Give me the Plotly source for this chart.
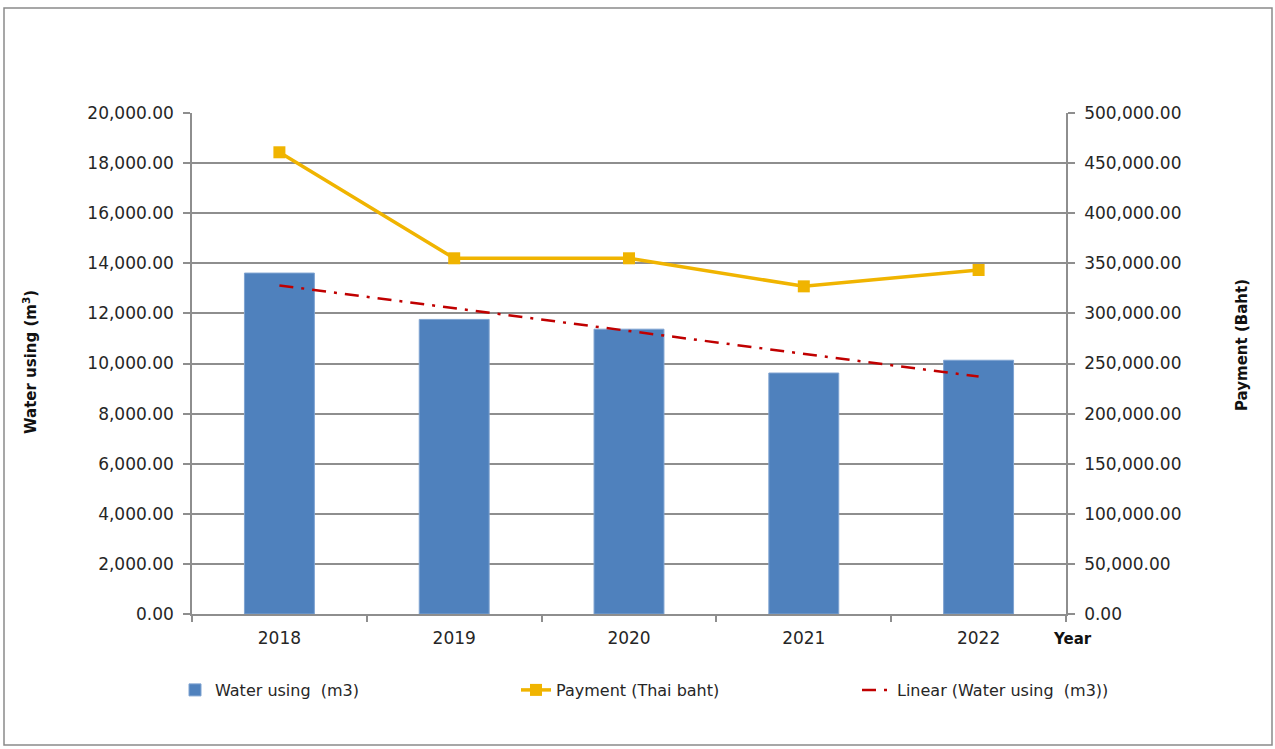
import numpy as np
import plotly.graph_objects as go

years = ["2018", "2019", "2020", "2021", "2022"]
water_m3 = [13610, 11760, 11370, 9620, 10130]
payment_baht = [460800, 355000, 355000, 327000, 343300]
left_ticks = [0, 2000, 4000, 6000, 8000, 10000, 12000, 14000, 16000, 18000, 20000]
right_ticks = [0, 50000, 100000, 150000, 200000, 250000, 300000, 350000, 400000, 450000, 500000]

# linear trend of water use (least squares)
xi = np.arange(1, len(years) + 1)
slope, intercept = np.polyfit(xi, water_m3, 1)
trend = list(slope * xi + intercept)

FONT = "DejaVu Sans"
GRID = "#8E8E8E"
TXT = "#262626"

fig = go.Figure()
fig.add_trace(go.Bar(
    x=years, y=water_m3, name="Water using  (m3)",
    marker=dict(color="#4F81BD", line=dict(color="#7FA3D1", width=1)),
    yaxis="y",
))
fig.add_trace(go.Scatter(
    x=years, y=payment_baht, name="Payment (Thai baht)",
    mode="lines+markers",
    line=dict(color="#F0B400", width=3.5),
    marker=dict(symbol="square", size=12, color="#F0B400"),
    yaxis="y2",
))
fig.add_trace(go.Scatter(
    x=years, y=trend, name="Linear (Water using  (m3))",
    mode="lines",
    line=dict(color="#C00000", width=2.5, dash="14px,8px,3px,8px"),
    yaxis="y",
))

W, H = 1275, 749
L, R, T, B = 192, 1066, 113, 614
pw, ph = R - L, B - T

def px(x):
    return (x - L) / pw

def py(y):
    return (B - y) / ph

fig.update_layout(
    width=W, height=H,
    margin=dict(l=L, r=W - R, t=T, b=H - B, pad=0),
    paper_bgcolor="white", plot_bgcolor="white",
    font=dict(family=FONT, size=17, color=TXT),
    bargap=0.6,
    showlegend=True,
    legend=dict(
        orientation="h", x=px(175), y=py(690), xanchor="left", yanchor="middle",
        font=dict(family=FONT, size=16, color=TXT),
        entrywidth=296, entrywidthmode="pixels",
        traceorder="normal", bgcolor="rgba(0,0,0,0)",
    ),
    xaxis=dict(
        type="category", showgrid=False, showline=True, linecolor=GRID, linewidth=1.5,
        ticks="outside", tickson="boundaries", ticklen=6, tickcolor=GRID, tickwidth=1.5,
        ticklabelstandoff=8,
        tickfont=dict(family=FONT, size=17, color=TXT),
        range=[-0.5, 4.5],
    ),
    yaxis=dict(
        range=[0, 20000], tickvals=left_ticks, tickformat=",.2f",
        showgrid=True, gridcolor=GRID, gridwidth=1.5,
        showline=True, linecolor=GRID, linewidth=1.5,
        ticks="outside", ticklen=7, tickcolor=GRID, tickwidth=1.5,
        ticklabelstandoff=6,
        tickfont=dict(family=FONT, size=17, color=TXT),
        zeroline=False,
    ),
    yaxis2=dict(
        range=[0, 500000], tickvals=right_ticks, tickformat=",.2f",
        overlaying="y", side="right", showgrid=False,
        showline=True, linecolor=GRID, linewidth=1.5,
        ticks="outside", ticklen=7, tickcolor=GRID, tickwidth=1.5,
        ticklabelstandoff=6,
        tickfont=dict(family=FONT, size=17, color=TXT),
        zeroline=False,
    ),
    shapes=[dict(
        type="rect", xref="paper", yref="paper",
        x0=px(4), x1=px(1272), y0=py(745), y1=py(8),
        line=dict(color="#8A8A8A", width=1.5), fillcolor="rgba(0,0,0,0)", layer="below",
    )],
    annotations=[
        dict(text="<b>Water using (m<sup>3</sup>)</b>", xref="paper", yref="paper",
             x=px(30), y=py(362), textangle=-90, showarrow=False,
             font=dict(family=FONT, size=15, color="#111111"),
             xanchor="center", yanchor="middle"),
        dict(text="<b>Payment (Baht)</b>", xref="paper", yref="paper",
             x=px(1242), y=py(345), textangle=-90, showarrow=False,
             font=dict(family=FONT, size=15, color="#111111"),
             xanchor="center", yanchor="middle"),
        dict(text="<b>Year</b>", xref="paper", yref="paper",
             x=px(1072), y=py(639), showarrow=False,
             font=dict(family=FONT, size=15, color="#111111"),
             xanchor="center", yanchor="middle"),
    ],
)

fig.write_html("out.html")
